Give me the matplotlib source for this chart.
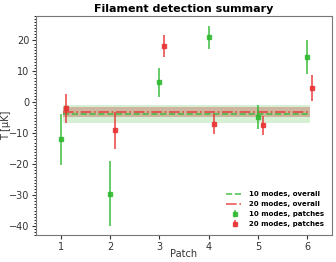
from matplotlib import pyplot as plt
from matplotlib.ticker import AutoMinorLocator
import numpy as np

# patch-by-patch filament amplitudes (uK)
patches = np.array([1, 2, 3, 4, 5, 6])
t10 = [-12.0, -29.5, 6.5, 21.0, -4.7, 14.5]
e10 = [8.3, 10.5, 4.7, 3.8, 3.8, 5.5]
t20 = [-2.0, -9.0, 18.3, -7.0, -7.5, 4.5]
e20 = [4.7, 6.0, 3.6, 3.3, 3.1, 4.2]

# overall fits
all10, err10 = -3.8, 3.0
all20, err20 = -3.2, 1.7
band_x = [1.05, 6.05]

green = '#2db82d'
red = '#e83030'

fig = plt.figure(figsize=(3.36, 2.62), dpi=100)
ax = fig.add_axes([0.107, 0.102, 0.881, 0.838])

ax.fill_between(band_x, all10 - err10, all10 + err10, color=green, alpha=0.2, lw=0)
ax.fill_between(band_x, all20 - err20, all20 + err20, color='#c03020', alpha=0.3, lw=0)
ax.plot(band_x, [all10, all10], ls='--', color=green, lw=1.2, alpha=0.8, label='10 modes, overall')
ax.plot(band_x, [all20, all20], ls='-.', color=red, lw=1.2, alpha=0.8, label='20 modes, overall')

ax.errorbar(patches, t10, yerr=e10, fmt='s', ms=3, color=green, ecolor=green,
            elinewidth=1.2, alpha=0.85, label='10 modes, patches')
ax.errorbar(patches + 0.1, t20, yerr=e20, fmt='s', ms=3, color=red, ecolor=red,
            elinewidth=1.2, alpha=0.85, label='20 modes, patches')

ax.set_xlim(0.5, 6.5)
ax.set_ylim(-43, 28)
ax.set_xticks(patches)
ax.set_yticks([-40, -30, -20, -10, 0, 10, 20])
ax.yaxis.set_minor_locator(AutoMinorLocator(10))
ax.tick_params(labelsize=7, colors='#333333', length=3, pad=1.5)
ax.tick_params(which='minor', length=1.5)
for s in ax.spines.values():
    s.set_color('#777777')

ax.set_xlabel('Patch', fontsize=7, color='#333333')
ax.set_ylabel('T [μK]', fontsize=7, color='#333333')
ax.xaxis.set_label_coords(0.5, -0.062)
ax.yaxis.set_label_coords(-0.085, 0.5)
ax.set_title('Filament detection summary', fontsize=8, fontweight='bold', pad=3)

ax.legend(loc='lower right', frameon=False, prop={'size': 5, 'weight': 'bold'},
          handlelength=2.4, borderaxespad=0.8, labelspacing=0.55)

fig.savefig('out.png', dpi=100)
